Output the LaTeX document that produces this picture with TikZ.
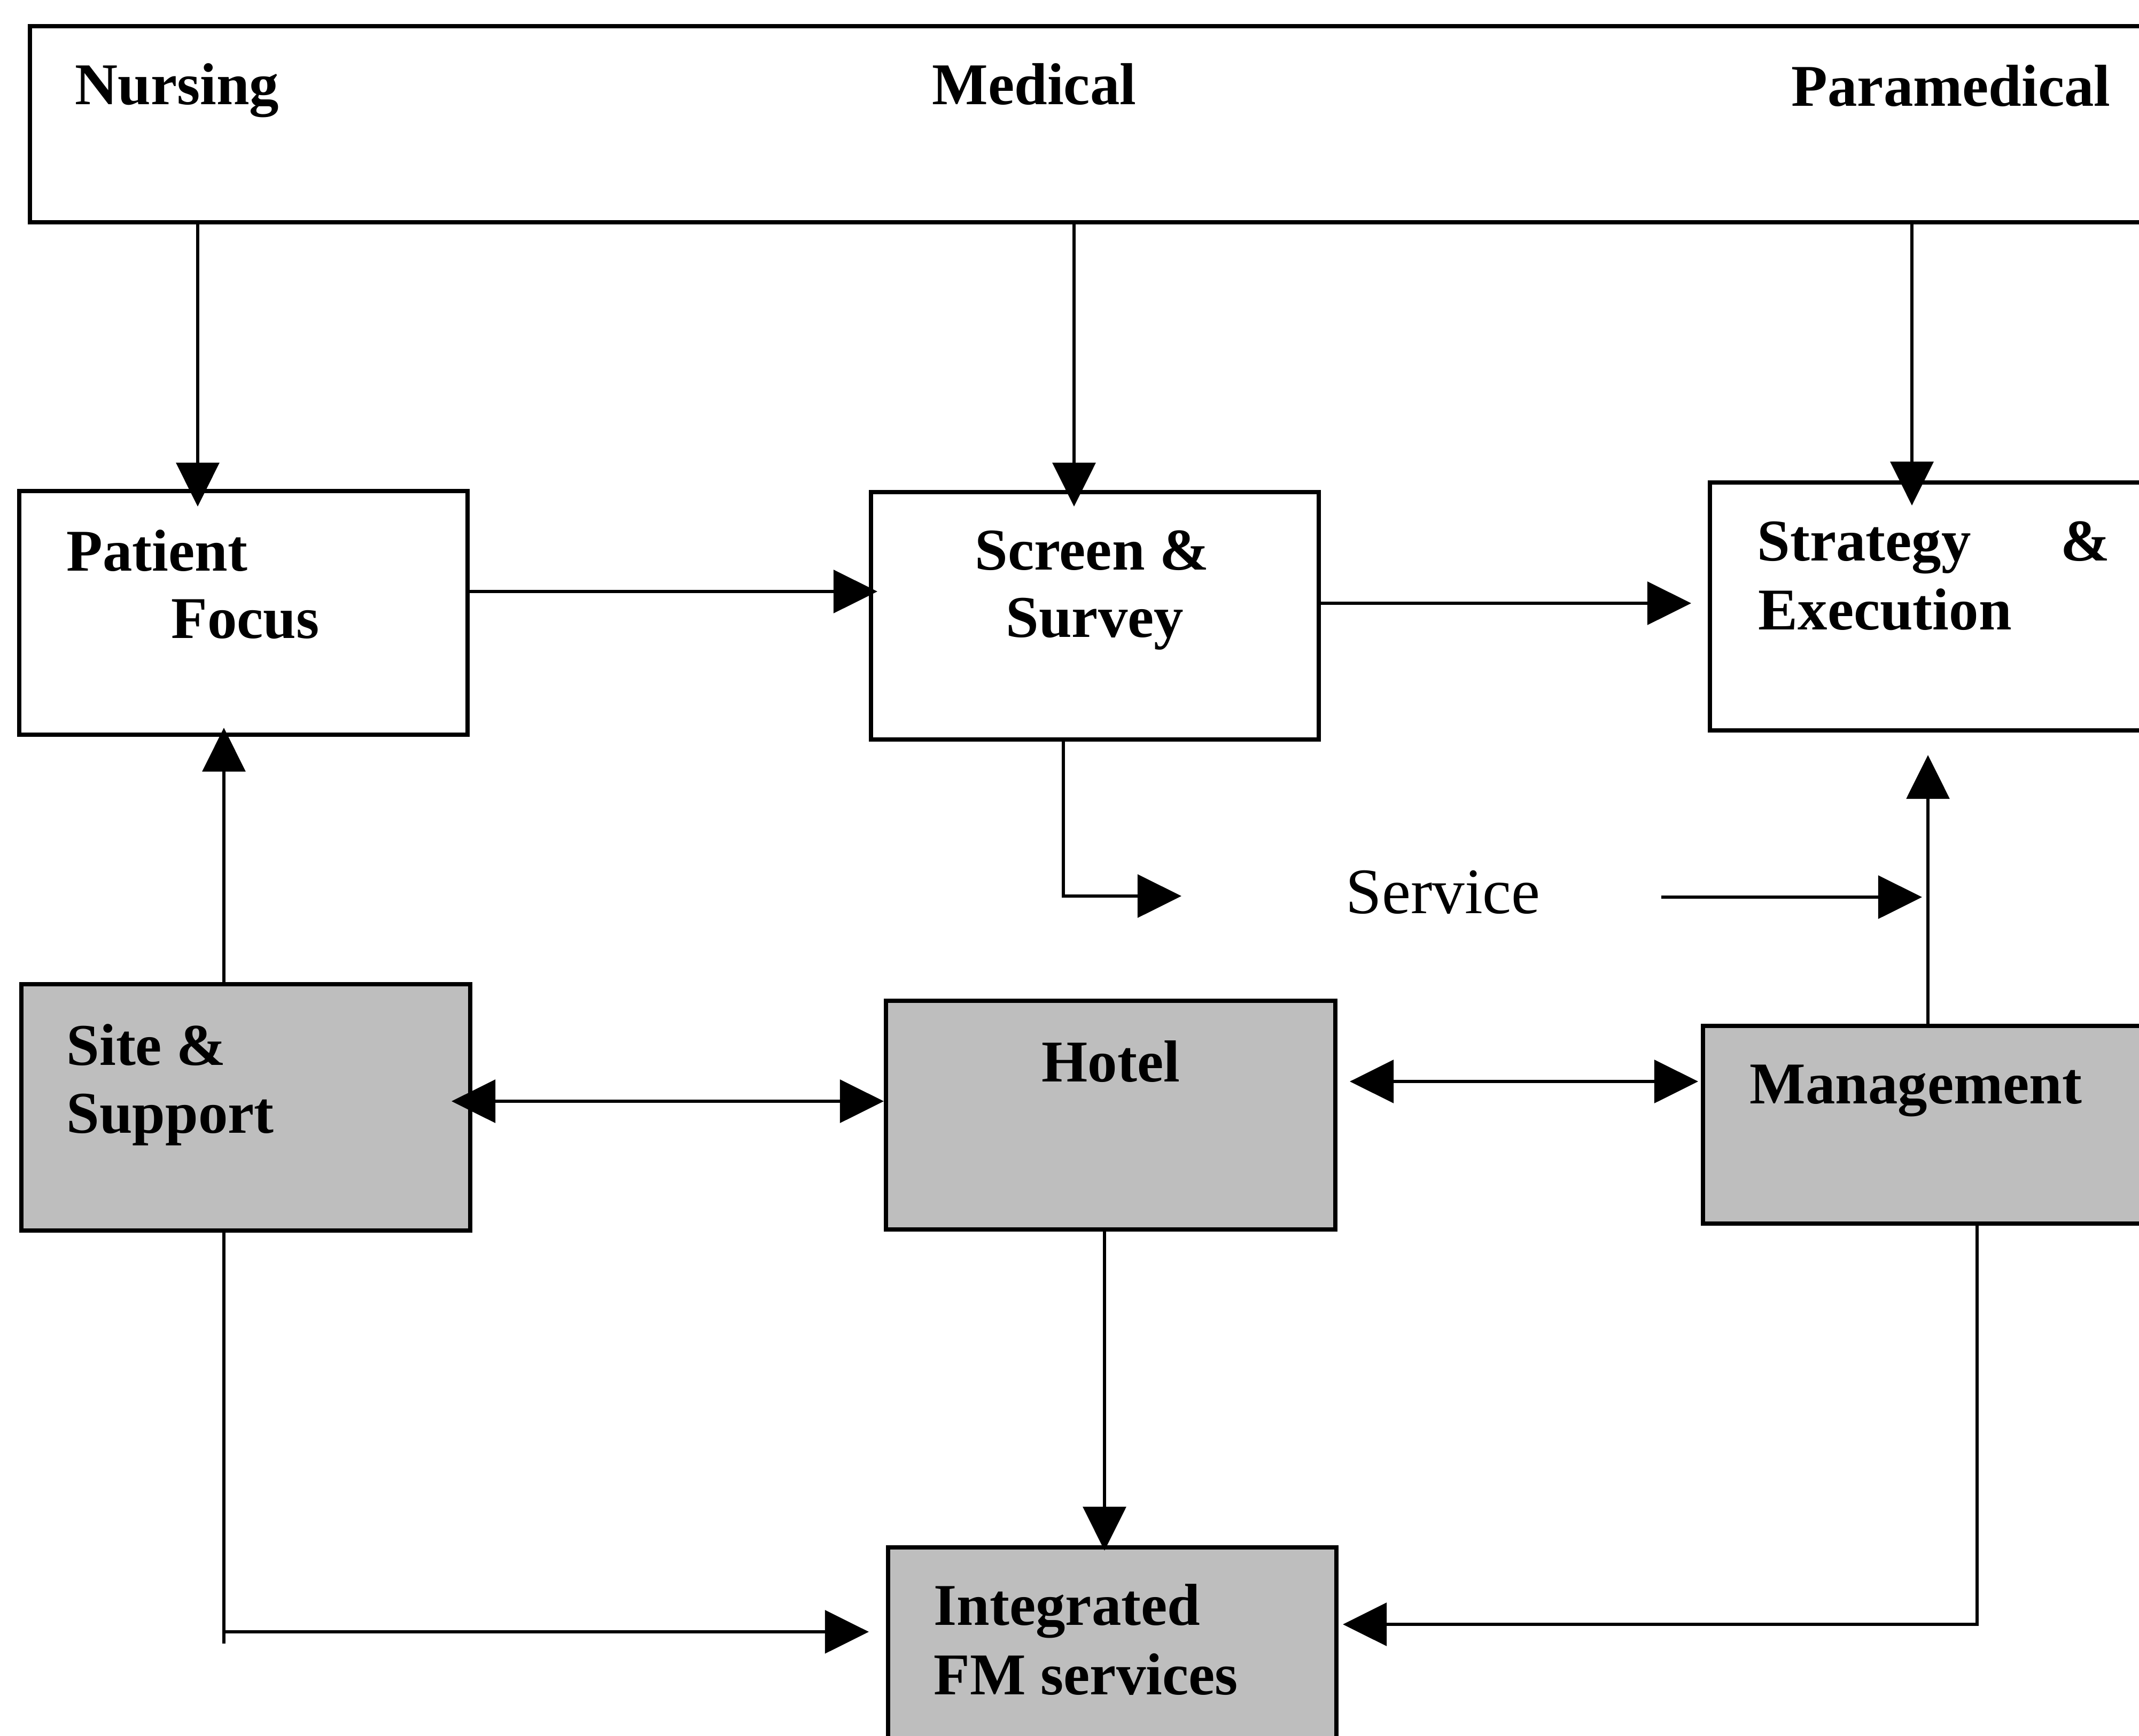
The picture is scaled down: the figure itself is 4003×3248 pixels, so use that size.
\documentclass[tikz,border=0pt]{standalone}
\usepackage{fontspec}
\setmainfont{Liberation Serif}
\usetikzlibrary{arrows.meta,fit}

\definecolor{boxgray}{RGB}{190,190,190}

\tikzset{
  box/.style={draw=black, line width=2.1pt, inner sep=0pt, outer sep=0pt, rectangle},
  shaded/.style={box, fill=boxgray},
  lbl/.style={inner sep=0pt, anchor=base west, font=\fontsize{31.5pt}{36pt}\selectfont\bfseries},
  plain/.style={inner sep=0pt, anchor=base west, font=\fontsize{34.5pt}{40pt}\selectfont},
  line/.style={draw=black, line width=1.8pt},
  conn/.style={line, -{Triangle[length=0.82cm,width=0.80cm]}},
  dconn/.style={line, {Triangle[length=0.82cm,width=0.80cm]}-{Triangle[length=0.82cm,width=0.80cm]}}
}

\begin{document}
\begin{tikzpicture}[x=0.01cm, y=-0.01cm]
  \useasboundingbox (0,0) rectangle (4003,3248);
  \fill[white] (0,0) rectangle (4003,3248);
  \clip (0,0) rectangle (4003,3248);

  % service groups along the top
  \node[box, fit={(56,49) (4040,416)}] (top) {};
  \node[lbl] (tN) at (140,195) {Nursing};
  \node[lbl] (tM) at (1744,195) {Medical};
  \node[lbl] (tP) at (3352,198) {Paramedical};

  % clinical boxes
  \node[box, fit={(36,919) (875,1375)}] (pf) {};
  \node[lbl] (pf1) at (124,1068) {Patient};
  \node[lbl] (pf2) at (320,1194) {Focus};

  \node[box, fit={(1630,921) (2468,1384)}] (ss) {};
  \node[lbl] (ss1) at (1824,1066) {Screen \&};
  \node[lbl] (ss2) at (1882,1192) {Survey};

  \node[box, fit={(3200,903) (4040,1367)}] (se) {};
  \node[lbl] (se1) at (3288,1049) {Strategy};
  \node[lbl, anchor=base east] (se2) at (3949,1049) {\&};
  \node[lbl] (se3) at (3290,1178) {Execution};

  % support boxes
  \node[shaded, fit={(40,1842) (880,2303)}] (sp) {};
  \node[lbl] (sp1) at (124,1993) {Site \&};
  \node[lbl] (sp2) at (124,2120) {Support};

  \node[shaded, fit={(1658,1873) (2499,2301)}] (ht) {};
  \node[lbl] (ht1) at (1949,2024) {Hotel};

  \node[shaded, fit={(3187,1920) (4040,2290)}] (mg) {};
  \node[lbl] (mg1) at (3274,2065) {Management};

  \node[shaded, fit={(1662,2896) (2501,3300)}] (fm) {};
  \node[lbl] (fm1) at (1747,3041) {Integrated};
  \node[lbl] (fm2) at (1747,3171) {FM services};

  \node[plain] (svc) at (2518,1709) {Service};

  % column and row guides for the connectors
  \coordinate (xN) at (370,0);
  \coordinate (xM) at (2010,0);
  \coordinate (xP) at (3578,0);
  \coordinate (xS) at (1990,0);
  \coordinate (xMg) at (3608,0);
  \coordinate (xSp) at (419,0);
  \coordinate (xH) at (2067,0);
  \coordinate (xMb) at (3700,0);
  \coordinate (yA) at (0,1107);
  \coordinate (yB) at (0,1129);
  \coordinate (ySL) at (0,2061);
  \coordinate (yHM) at (0,2024);
  \coordinate (yC) at (0,3054);
  \coordinate (yD) at (0,3040);
  \coordinate (svcIn) at (2211,1677);
  \coordinate (svcOut) at (3109,1679);

  % top band down to the clinical boxes
  \draw[conn, shorten >=-0.29cm] (top.south -| xN) -- (pf.north -| xN);
  \draw[conn, shorten >=-0.27cm] (top.south -| xM) -- (ss.north -| xM);
  \draw[conn, shorten >=-0.43cm] (top.south -| xP) -- (se.north -| xP);

  % clinical chain
  \draw[conn, shorten >=-0.12cm] (pf.east |- yA) -- (ss.west |- yA);
  \draw[conn, shorten >=0.35cm] (ss.east |- yB) -- (se.west |- yB);

  % service flow
  \draw[conn] (ss.south -| xS) |- (svcIn);
  \draw[conn, shorten >=0.11cm] (svcOut) -- (svcOut -| xMg);
  \draw[conn, shorten >=0.46cm] (mg.north -| xMg) -- (se.south -| xMg);

  % support links
  \draw[conn, shorten >=-0.13cm] (sp.north -| xSp) -- (pf.south -| xSp);
  \draw[dconn, shorten <=-0.35cm, shorten >=0.04cm] (sp.east |- ySL) -- (ht.west |- ySL);
  \draw[dconn, shorten <=0.27cm, shorten >=0.09cm] (ht.east |- yHM) -- (mg.west |- yHM);

  % into integrated FM services
  \draw[conn, shorten >=-0.06cm] (ht.south -| xH) -- (fm.north -| xH);
  \draw[conn, shorten >=0.36cm] (sp.south -| xSp) |- (fm.west |- yC);
  \draw[line] (xSp |- yC) -- ++(0,22);
  \draw[conn, shorten >=0.12cm] (mg.south -| xMb) |- (fm.east |- yD);
\end{tikzpicture}
\end{document}
